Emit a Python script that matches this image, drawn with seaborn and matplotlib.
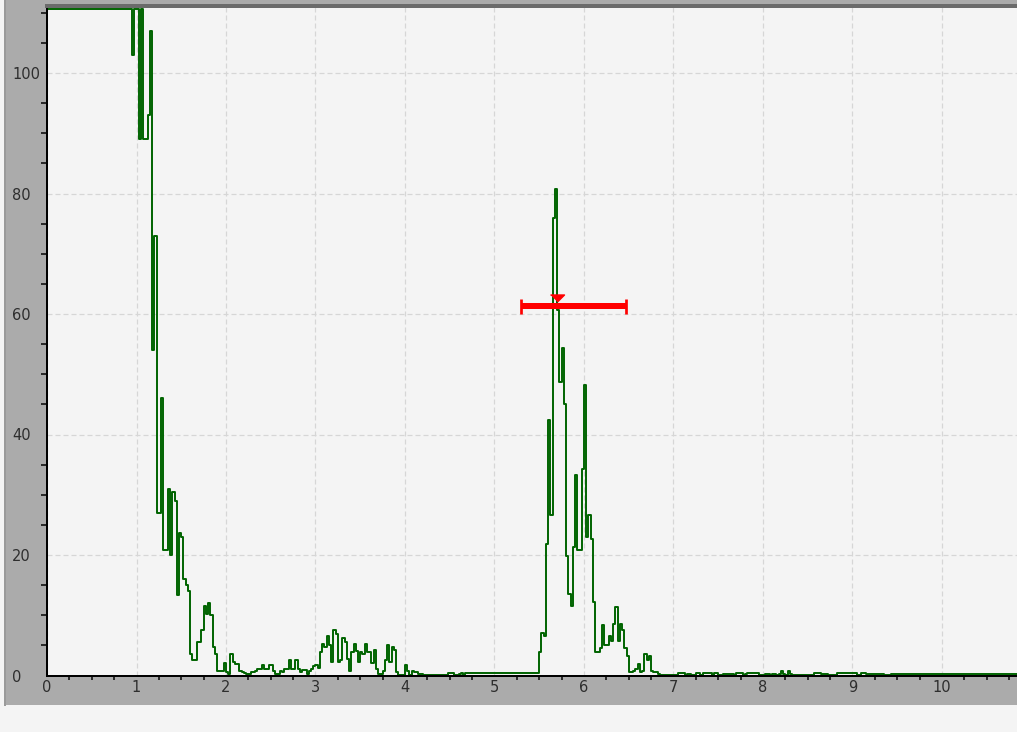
import numpy as np
import pandas as pd
import matplotlib
matplotlib.use("Agg")
import matplotlib.pyplot as plt
from matplotlib.patches import Rectangle
from matplotlib.ticker import MultipleLocator
from matplotlib.transforms import offset_copy
import seaborn as sns

# ---- data -----------------------------------------------------------------
BIN_WIDTH = 0.025

# counts per 0.025-wide channel, one list per unit of the x axis
counts_00_10 = [
    110.6, 110.6, 110.6, 110.6, 110.6, 110.6, 110.6, 110.6, 110.6, 110.6,
    110.6, 110.6, 110.6, 110.6, 110.6, 110.6, 110.6, 110.6, 110.6, 110.6,
    110.6, 110.6, 110.6, 110.6, 110.6, 110.6, 110.6, 110.6, 110.6, 110.6,
    110.6, 110.6, 110.6, 110.6, 110.6, 110.6, 110.6, 110.6, 103.0, 110.6,
]
counts_10_20 = [
    110.6, 89.0, 110.6, 89.0, 89.0, 93.0, 107.0, 54.0, 73.0, 27.0,
    27.0, 46.0, 20.8, 20.8, 31.0, 20.0, 30.4, 29.0, 13.3, 23.6,
    23.0, 16.0, 15.0, 14.0, 3.6, 2.5, 2.5, 5.5, 5.5, 7.5,
    11.6, 10.2, 12.1, 10.0, 4.7, 3.6, 0.8, 0.8, 0.8, 2.0,
]
counts_20_30 = [
    0.5, 0.3, 3.6, 2.2, 1.9, 1.9, 0.8, 0.6, 0.4, 0.3,
    0.2, 0.5, 0.5, 0.7, 1.1, 1.1, 1.7, 1.1, 1.1, 1.7,
    1.7, 0.8, 0.3, 0.3, 0.8, 0.6, 1.1, 1.1, 2.6, 1.1,
    1.1, 2.5, 1.1, 0.6, 0.9, 0.9, 0.3, 0.7, 1.1, 1.6,
]
counts_30_40 = [
    1.7, 1.2, 3.9, 5.3, 4.8, 6.6, 5.0, 2.2, 7.6, 6.9,
    2.2, 2.5, 6.3, 5.5, 2.8, 0.8, 3.9, 5.3, 4.0, 2.2,
    3.9, 3.6, 5.3, 3.9, 3.9, 2.0, 4.2, 1.1, 0.3, 0.2,
    0.8, 2.5, 5.0, 2.2, 4.7, 4.2, 0.5, 0.1, 0.1, 0.1,
]
counts_40_50 = [
    1.7, 0.8, 0.1, 0.8, 0.55, 0.55, 0.3, 0.2, 0.1, 0.1,
    0.05, 0.05, 0.1, 0.1, 0.05, 0.05, 0.05, 0.05, 0.1, 0.4,
    0.4, 0.4, 0.1, 0.1, 0.3, 0.4, 0.1, 0.4, 0.4, 0.4,
    0.4, 0.4, 0.4, 0.4, 0.4, 0.4, 0.4, 0.4, 0.4, 0.4,
]
counts_50_60 = [
    0.4, 0.4, 0.4, 0.4, 0.4, 0.4, 0.4, 0.4, 0.4, 0.4,
    0.4, 0.4, 0.4, 0.4, 0.4, 0.4, 0.4, 0.4, 0.4, 0.4,
    3.9, 7.0, 6.6, 21.9, 42.4, 26.6, 76.0, 80.8, 60.6, 48.7,
    54.3, 45.1, 19.9, 13.6, 11.6, 21.3, 33.2, 20.8, 20.8, 34.3,
]
counts_60_70 = [
    48.2, 23.0, 26.6, 22.7, 12.2, 3.9, 3.9, 4.5, 8.3, 5.0,
    5.0, 6.6, 5.8, 8.6, 11.3, 5.8, 8.6, 7.5, 4.5, 3.3,
    0.6, 0.6, 0.8, 1.0, 1.9, 0.6, 0.8, 3.6, 2.5, 3.3,
    0.8, 0.6, 0.6, 0.3, 0.1, 0.05, 0.05, 0.05, 0.05, 0.05,
]
counts_70_80 = [
    0.05, 0.1, 0.35, 0.35, 0.35, 0.15, 0.25, 0.25, 0.1, 0.15,
    0.35, 0.35, 0.1, 0.35, 0.35, 0.35, 0.35, 0.1, 0.35, 0.35,
    0.1, 0.15, 0.25, 0.25, 0.25, 0.25, 0.25, 0.1, 0.35, 0.35,
    0.35, 0.1, 0.25, 0.35, 0.35, 0.35, 0.35, 0.35, 0.15, 0.1,
]
counts_80_90 = [
    0.15, 0.2, 0.2, 0.15, 0.2, 0.2, 0.15, 0.2, 0.7, 0.2,
    0.15, 0.7, 0.25, 0.15, 0.1, 0.15, 0.15, 0.1, 0.15, 0.15,
    0.1, 0.15, 0.15, 0.35, 0.35, 0.35, 0.25, 0.25, 0.25, 0.15,
    0.15, 0.1, 0.15, 0.35, 0.35, 0.35, 0.35, 0.35, 0.35, 0.35,
]
counts_90_100 = [
    0.35, 0.35, 0.1, 0.15, 0.35, 0.35, 0.25, 0.25, 0.25, 0.25,
    0.25, 0.25, 0.25, 0.25, 0.15, 0.15, 0.15, 0.3, 0.3, 0.3,
    0.3, 0.3, 0.3, 0.3, 0.3, 0.3, 0.3, 0.3, 0.3, 0.3,
    0.3, 0.3, 0.3, 0.3, 0.3, 0.3, 0.3, 0.3, 0.3, 0.3,
]
counts_100_end = [
    0.3, 0.3, 0.3, 0.3, 0.3, 0.3, 0.3, 0.3, 0.3, 0.3,
    0.3, 0.3, 0.3, 0.3, 0.3, 0.3, 0.3, 0.3, 0.3, 0.3,
    0.3, 0.3, 0.3, 0.3, 0.3, 0.3, 0.3, 0.3, 0.3, 0.3,
    0.3, 0.3, 0.3, 0.3, 0.3,
]

# peak marker and its window
peak_x = 5.695
peak_y = 61.4
window_lo = 5.293
window_hi = 6.473

x_ticks = [0, 1, 2, 3, 4, 5, 6, 7, 8, 9, 10]
y_ticks = [0, 20, 40, 60, 80, 100]

counts = np.concatenate([
    counts_00_10, counts_10_20, counts_20_30, counts_30_40, counts_40_50,
    counts_50_60, counts_60_70, counts_70_80, counts_80_90, counts_90_100,
    counts_100_end,
])
n_bins = len(counts)
centers = (np.arange(n_bins) + 0.5) * BIN_WIDTH
spectrum = pd.DataFrame({"channel": centers, "count": counts})

# ---- figure ---------------------------------------------------------------
W, H = 1017, 732
DPI = 100
PX = 72 / DPI  # points per pixel

plt.rcParams["font.family"] = ["DejaVu Sans"]
plt.rcParams["lines.scale_dashes"] = False

fig = plt.figure(figsize=(W / DPI, H / DPI), dpi=DPI, facecolor="#f4f4f4")

# grey control frame around the plot area
fig.patches.append(Rectangle((5 / W, (H - 705) / H), 1 - 5 / W, 705 / H,
                             transform=fig.transFigure, facecolor="#ababab",
                             edgecolor="none", zorder=-5))
fig.patches.append(Rectangle((4 / W, (H - 706) / H), 1.5 / W, 706 / H,
                             transform=fig.transFigure, facecolor="#9a9a9a",
                             edgecolor="none", zorder=-4))

ax_left, ax_bottom_px, ax_top_px = 47, 675.5, 6
ax = fig.add_axes([ax_left / W, (H - ax_bottom_px) / H,
                   1 - ax_left / W, (ax_bottom_px - ax_top_px) / H])
ax.set_facecolor("#f4f4f4")

sns.histplot(data=spectrum, x="channel", weights="count",
             binwidth=BIN_WIDTH, binrange=(0, n_bins * BIN_WIDTH),
             element="step", fill=False, color="#006400", linewidth=1.4,
             ax=ax)

# red window bar with caps and a downward marker above it
ax.errorbar([peak_x], [peak_y],
            xerr=[[peak_x - window_lo], [window_hi - peak_x]],
            fmt="none", ecolor="#ff0000", elinewidth=6.0 * PX,
            capsize=7.5 * PX, capthick=2.7 * PX, zorder=4)
marker_tf = offset_copy(ax.transData, fig=fig, x=0, y=7.5, units="dots")
ax.plot([peak_x], [peak_y], linestyle="none",
        marker=[(-1, 0.5), (1, 0.5), (0, -0.5)], markersize=14 * PX,
        color="#ff0000", transform=marker_tf, zorder=5, clip_on=False)

# ---- axes cosmetics -------------------------------------------------------
ymax = (ax_bottom_px - ax_top_px) / 6.025
xmax = (W - ax_left) / 89.5
ax.set_xlim(0, xmax)
ax.set_ylim(0, ymax)
ax.set_xlabel("")
ax.set_ylabel("")

ax.set_xticks(x_ticks)
ax.set_yticks(y_ticks)
ax.xaxis.set_minor_locator(MultipleLocator(0.25))
ax.yaxis.set_minor_locator(MultipleLocator(5))

label_kw = dict(labelsize=10.5, labelcolor="#2e2e2e")
ax.tick_params(axis="x", which="major", length=0, pad=3.2, **label_kw)
ax.tick_params(axis="y", which="major", length=0, pad=35 * PX, **label_kw)
ax.tick_params(axis="x", which="minor", length=4 * PX, width=1.5 * PX,
               color="black", direction="out")
ax.tick_params(axis="y", which="minor", length=6 * PX, width=1.5 * PX,
               color="black", direction="out")
for lbl in ax.get_yticklabels():
    lbl.set_horizontalalignment("left")

ax.set_axisbelow(True)
ax.grid(which="major", color="#d6d6d6", linewidth=1.2 * PX,
        linestyle=(0, (5 * PX, 3 * PX)))

for side in ("left", "bottom"):
    ax.spines[side].set_color("black")
    ax.spines[side].set_linewidth(2 * PX)
ax.spines["top"].set_color("#6b6b6b")
ax.spines["top"].set_linewidth(4 * PX)
ax.spines["right"].set_visible(False)

fig.savefig("out.png", dpi=DPI, facecolor=fig.get_facecolor())
